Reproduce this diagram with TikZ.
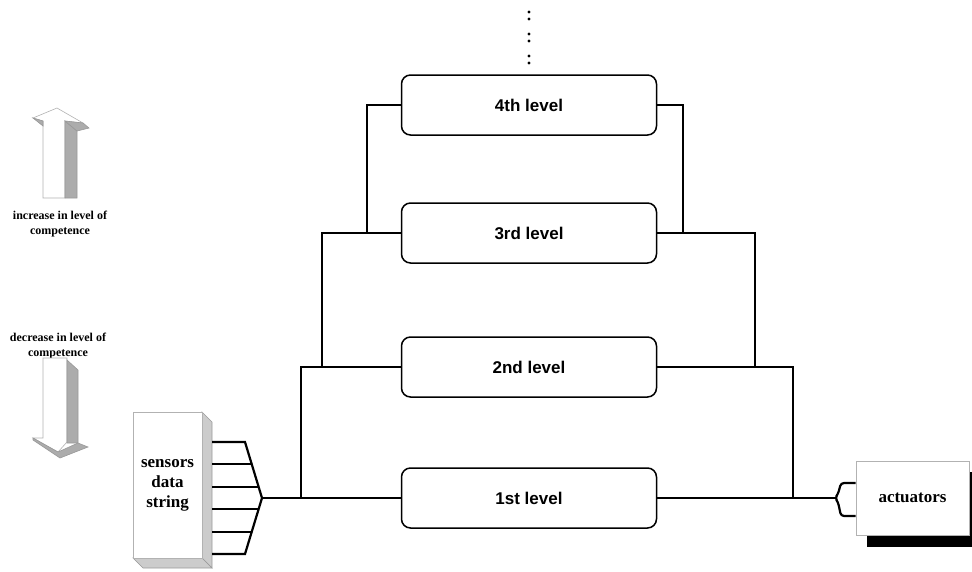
\documentclass[tikz,border=0pt]{standalone}
\usepackage{fontspec}
\setmainfont{Liberation Serif}
\setsansfont{Liberation Sans}
\begin{document}
\begin{tikzpicture}[x=1pt,y=-1pt,
  levelbox/.style={draw, rounded corners=9pt, line width=1.5pt, minimum width=255pt, minimum height=60pt, inner sep=0pt, font=\sffamily\bfseries\fontsize{17}{20}\selectfont},
  wire/.style={line width=2.2pt},
  lbl/.style={font=\bfseries\fontsize{12}{15}\selectfont, align=center, inner sep=0pt},
  serifbold/.style={font=\bfseries\fontsize{17}{20}\selectfont, align=center},
  face/.style={fill=white, draw=gray!60, line width=0.6pt},
  shade/.style={fill=gray!65, draw=gray!80, line width=0.6pt}]
\useasboundingbox (0,0) rectangle (972,571);

% levels
\node[levelbox] (l4) at (529,105) {4th level};
\node[levelbox] (l3) at (529,233) {3rd level};
\node[levelbox] (l2) at (529,367) {2nd level};
\node[levelbox] (l1) at (529,498) {1st level};

% dots
\foreach \yy in {12,19,34,41,56,63} \fill (529,\yy) circle (1.7pt);

% left wires
\draw[wire] (l4.west) -- ++(-34,0) |- (l3.west);
\draw[wire] (l3.west) -- ++(-79,0) |- (l2.west);
\draw[wire] (l2.west) -- ++(-100,0) |- (l1.west);
% right wires
\draw[wire] (l4.east) -- ++(26,0) |- (l3.east);
\draw[wire] (l3.east) -- ++(98,0) |- (l2.east);
\draw[wire] (l2.east) -- ++(136,0) |- (l1.east);

% sensors box
\filldraw[shade, fill=gray!40] (202,412) -- (212,422) -- (212,568) -- (202,558) -- cycle;
\filldraw[shade, fill=gray!40] (133,558) -- (202,558) -- (212,568) -- (143,568) -- cycle;
\node[face, minimum width=69pt, minimum height=146pt, inner sep=0pt, serifbold] (sens) at (167.5,485) {sensors\\data\\string};

% fan
\coordinate (ftip) at (262,498);
\draw[wire, line join=miter] (212,442) -- (245,442) -- (ftip) -- (245,554) -- (212,554);
\draw[wire] (212,464) -- (251.7,464);
\draw[wire] (212,487) -- (258.7,487);
\draw[wire] (212,509) -- (258.7,509);
\draw[wire] (212,532) -- (251.7,532);
\draw[wire] (ftip) -- (l1.west);

% actuators
\fill[black] (867,472) rectangle (985,547);
\node[face, minimum width=113pt, minimum height=74pt, inner sep=0pt, serifbold] (act) at (912.5,498) {actuators};
\coordinate (atip) at (835,498);
\draw[wire, rounded corners=3pt] (act.west |- 0,483) -- (841,483) -- (838,494) -- (atip) -- (838,502) -- (841,516) -- (act.west |- 0,516);
\draw[wire] (l1.east) -- (atip);

% up arrow
\filldraw[face] (43,198) -- (43,121) -- (33,118) -- (57,108) -- (83,123) -- (65,121) -- (65,198) -- cycle;
\filldraw[shade] (65,121) -- (77,131) -- (77,198) -- (65,198) -- cycle;
\filldraw[shade] (65,121) -- (83,123) -- (89,128) -- (77,131) -- cycle;
\filldraw[shade] (33,118) -- (43,121) -- (43,126) -- cycle;
\node[lbl] (inc) at (60,224) {increase in level of\\competence};

% down arrow
\node[lbl] (dec) at (58,346) {decrease in level of\\competence};
\filldraw[face] (43,358) -- (67,358) -- (67,442) -- (58,452) -- (33,438) -- (43,438) -- cycle;
\filldraw[shade] (67,360) -- (78,370) -- (78,443) -- (67,443) -- cycle;
\filldraw[shade] (33,438) -- (58,452) -- (78,443) -- (88,447) -- (60,458) -- (33,440) -- cycle;
\end{tikzpicture}
\end{document}
